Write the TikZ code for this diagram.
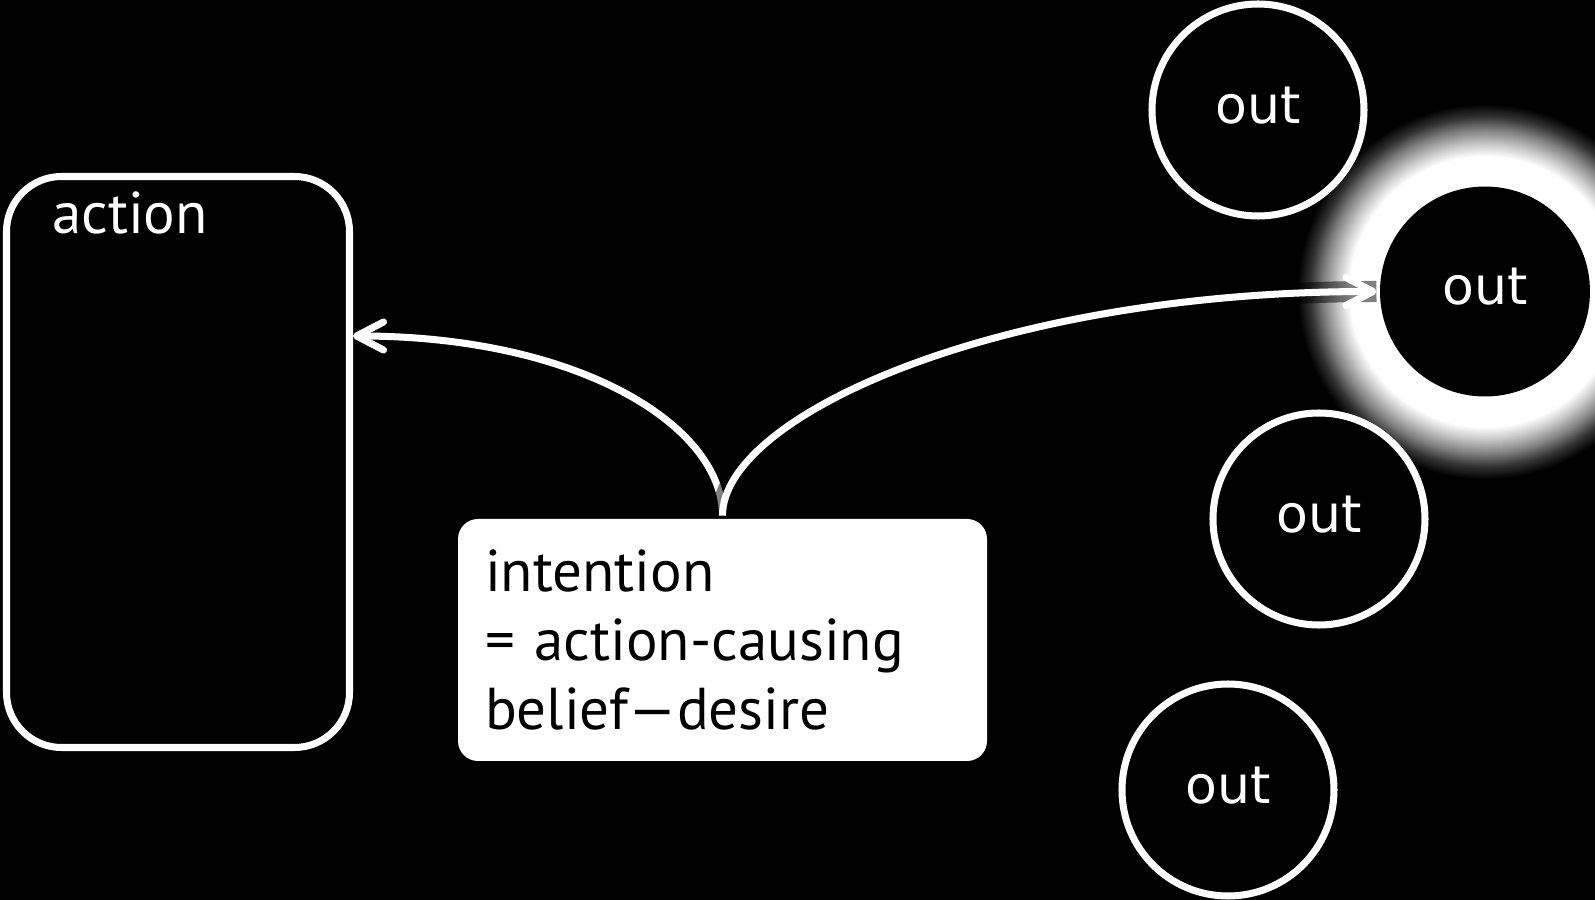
\documentclass[tikz,border=0pt]{standalone}
\usepackage{fontspec}
\setmainfont{PT Sans}
\newfontfamily\outfont{DejaVu Sans}
\usetikzlibrary{arrows.meta,backgrounds}
\pgfdeclareradialshading{halo}{\pgfpoint{0bp}{0bp}}{color(0bp)=(white); color(13.8bp)=(white); color(17.8bp)=(white); color(19.3bp)=(white!80!black); color(21.3bp)=(white!50!black); color(23bp)=(white!20!black); color(24.7bp)=(black); color(50bp)=(black)}
\begin{document}
\begin{tikzpicture}[line width=2pt,
		box/.style={draw=white,rounded corners=5.5mm,minimum width=34.3mm,minimum height=57.1mm},
		note/.style={fill=white,text=black,rounded corners=2mm,minimum width=52.9mm,minimum height=24.2mm,
			text width=47.5mm,inner xsep=2.7mm,align=left,font=\fontsize{16.8}{19.6}\selectfont},
		lbl/.style={text=white,font=\fontsize{16.8}{19.6}\selectfont},
		outnode/.style={circle,draw=white,fill=black,text=white,minimum size=21.2mm,inner sep=0,
			text depth=0.28em,font=\outfont\fontsize{14.8}{17}\selectfont},
		link/.style={white,-{Straight Barb[length=2.7mm,width=2.8mm,round]}}]
		\useasboundingbox (0,0) rectangle (15.95,9);
		\node[box] (action) at (1.78,4.38) {};
		\node[lbl,anchor=base west] (actionlbl) at ([shift={(0.34,-0.605)}]action.north west) {action};
		\node[note] (intention) at (7.225,2.60) {intention\\= action-causing\\belief—desire};
		\begin{scope}[nodes=outnode]
		\node (out1) at (12.58,7.90) {out};
		\node[draw=none,minimum size=21mm] (out2) at (14.85,6.085) {out};
		\node (out3) at (13.19,3.81) {out};
		\node (out4) at (12.28,1.10) {out};
		\end{scope}
		\begin{scope}[on background layer]
		\fill[black] (0,0) rectangle (15.95,9);
		\shade[shading=halo] (out2) circle (1.9);
		\end{scope}
		\draw[link] (intention.north) .. controls +(0,0.89) and +(2.27,0) .. ([yshift=12.6mm]action.east);
		\draw[link,preaction={draw=black,line width=6pt,opacity=.5,-}] (intention.north) .. controls +(0,0.99) and +(-3.8,0) .. (out2.west);
\end{tikzpicture}
\end{document}
